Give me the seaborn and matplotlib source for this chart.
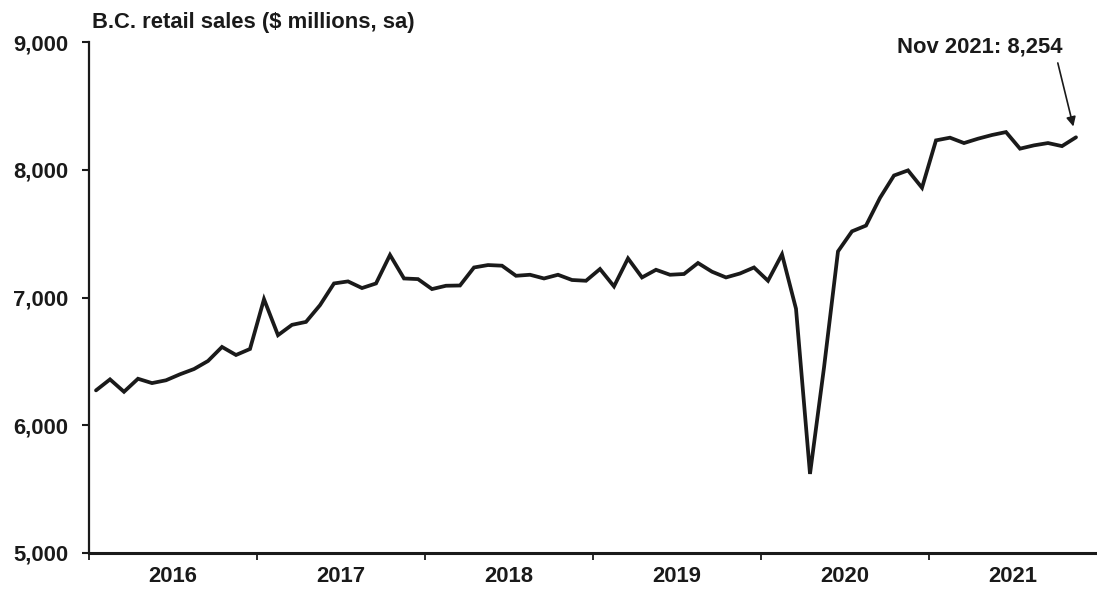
import numpy as np
import pandas as pd
import matplotlib
matplotlib.use("Agg")
import matplotlib.pyplot as plt
import seaborn as sns

# Monthly B.C. retail sales, seasonally adjusted ($ millions), Jan 2016 - Nov 2021
sales_2016 = [6273, 6359, 6262, 6364, 6330, 6352, 6399, 6440, 6503, 6613, 6550, 6597]
sales_2017 = [6987, 6705, 6786, 6809, 6940, 7110, 7126, 7074, 7110, 7333, 7149, 7144]
sales_2018 = [7066, 7092, 7094, 7235, 7254, 7249, 7170, 7178, 7149, 7178, 7137, 7131]
sales_2019 = [7223, 7087, 7306, 7157, 7217, 7178, 7184, 7270, 7202, 7157, 7188, 7235]
sales_2020 = [7131, 7338, 6912, 5619, 6451, 7361, 7518, 7563, 7780, 7955, 7995, 7859]
sales_2021 = [8230, 8251, 8209, 8243, 8272, 8295, 8165, 8191, 8209, 8185, 8254]
years = ["2016", "2017", "2018", "2019", "2020", "2021"]
y_ticks = [5000, 6000, 7000, 8000, 9000]
title = "B.C. retail sales ($ millions, sa)"
callout_label = "Nov 2021: 8,254"

sales = sales_2016 + sales_2017 + sales_2018 + sales_2019 + sales_2020 + sales_2021
df = pd.DataFrame({
    "month": np.arange(len(sales)) + 0.5,   # centre of each monthly slot
    "sales": sales,
})

sns.set_theme(style="white")
plt.rcParams["font.family"] = ["Liberation Sans", "DejaVu Sans"]
plt.rcParams["font.weight"] = "bold"

FS = 15.8
INK = "#1a1a1a"
W, H = 1097, 589
fig = plt.figure(figsize=(W / 100, H / 100), dpi=100, facecolor="white")
ax = fig.add_axes([89 / W, (H - 553) / H, (W - 89) / W, (553 - 42) / H])
ax.set_facecolor("white")

sns.lineplot(data=df, x="month", y="sales", ax=ax, color=INK,
             linewidth=2.7, solid_joinstyle="miter", clip_on=False)

n_years = len(years)
ax.set_xlim(0, 12 * n_years)
ax.set_ylim(y_ticks[0], y_ticks[-1])

# year boundaries as tick marks, year names centred between them
ax.set_xticks(np.arange(0, 12 * n_years, 12))
ax.set_xticklabels([])
ax.set_xticks(np.arange(n_years) * 12 + 6, minor=True)
ax.set_xticklabels(years, minor=True, fontsize=FS, fontweight="bold", color=INK)
ax.tick_params(axis="x", which="major", direction="out", length=5, width=1.3,
               color=INK, bottom=True)
ax.tick_params(axis="x", which="minor", length=0, pad=9, bottom=True)

ax.set_yticks(y_ticks)
ax.set_yticklabels([f"{v:,}" for v in y_ticks], fontsize=FS, fontweight="bold",
                   color=INK)
ax.tick_params(axis="y", direction="out", length=5, width=1.5, color=INK,
               pad=10, left=True)

ax.set_xlabel("")
ax.set_ylabel("")
for side in ("top", "right"):
    ax.spines[side].set_visible(False)
ax.spines["left"].set_linewidth(1.6)
ax.spines["left"].set_color(INK)
ax.spines["bottom"].set_linewidth(2.2)
ax.spines["bottom"].set_color(INK)
ax.grid(False)

fig.text(92 / W, 1 - 28 / H, title, fontsize=FS, fontweight="bold",
         color=INK, ha="left", va="baseline")

# callout for the latest month
last_x = df["month"].iloc[-1]
last_y = df["sales"].iloc[-1]
ax.text(57.7, 8914, callout_label, fontsize=FS, fontweight="bold",
        color=INK, ha="left", va="baseline")
ax.annotate("", xy=(last_x, last_y), xytext=(69.2, 8836),
            arrowprops=dict(arrowstyle="-|>", color=INK, lw=1.2,
                            mutation_scale=14, shrinkA=0, shrinkB=8),
            annotation_clip=False)

fig.savefig("out.png", dpi=100, facecolor="white")
